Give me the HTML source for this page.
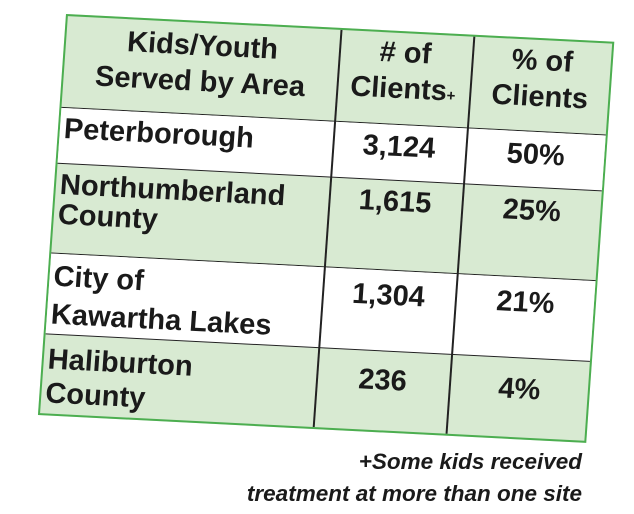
<!DOCTYPE html>
<html><head><meta charset="utf-8"><style>
body{margin:0;width:634px;height:514px;background:#fff;overflow:hidden;position:relative;font-family:"Liberation Sans",Arial,sans-serif;}
#t{position:absolute;left:66px;top:14px;width:549px;height:402px;transform-origin:0 0;transform:matrix(0.9987,0.0506,-0.0698,0.9976,0,0);border:2px solid #4cae50;box-sizing:border-box;background:#d8ead2;}
.r{position:absolute;left:0;width:100%;border-bottom:1.5px solid #222;box-sizing:border-box;}
.c{position:absolute;top:0;bottom:0;font-weight:bold;color:#1a1a1a;font-size:29px;line-height:30px;box-sizing:border-box;white-space:nowrap;}
.v1{position:absolute;left:273px;top:0;height:100%;border-left:2px solid #222;}
.v2{position:absolute;left:406px;top:0;height:100%;border-left:2px solid #222;}
.fn{position:absolute;right:52px;font-style:italic;font-weight:bold;font-size:22.5px;color:#1a1a1a;text-align:right;}
</style></head><body>
<div id="t">
 <div class="r" style="top:0;height:92px;">
  <div class="c" style="left:0;width:273px;text-align:center;padding-top:5px;line-height:36px;">Kids/Youth<br>Served by Area</div>
  <div class="c" style="left:273px;width:133px;text-align:center;padding-top:2px;line-height:36px;"># of<br>Clients<span style="font-size:15px">+</span></div>
  <div class="c" style="left:406px;width:141px;text-align:center;padding-top:3px;line-height:36px;">% of<br>Clients</div>
 </div>
 <div class="r" style="top:92px;height:56px;background:#fff;">
  <div class="c" style="left:4px;padding-top:6px;">Peterborough</div>
  <div class="c" style="left:273px;width:133px;text-align:center;padding-top:7px;">3,124</div>
  <div class="c" style="left:406px;width:141px;text-align:center;padding-top:8px;">50%</div>
 </div>
 <div class="r" style="top:148px;height:90px;">
  <div class="c" style="left:4px;padding-top:6px;line-height:30px;">Northumberland<br>County</div>
  <div class="c" style="left:273px;width:133px;text-align:center;padding-top:6px;">1,615</div>
  <div class="c" style="left:406px;width:141px;text-align:center;padding-top:8px;">25%</div>
 </div>
 <div class="r" style="top:238px;height:81px;background:#fff;">
  <div class="c" style="left:4px;padding-top:4px;line-height:38px;">City of<br>Kawartha Lakes</div>
  <div class="c" style="left:273px;width:133px;text-align:center;padding-top:10px;">1,304</div>
  <div class="c" style="left:406px;width:141px;text-align:center;padding-top:10px;">21%</div>
 </div>
 <div class="r" style="top:319px;height:83px;border-bottom:none;">
  <div class="c" style="left:4px;padding-top:8px;line-height:34px;">Haliburton<br>County</div>
  <div class="c" style="left:273px;width:133px;text-align:center;padding-top:14px;">236</div>
  <div class="c" style="left:406px;width:141px;text-align:center;padding-top:16px;">4%</div>
 </div>
 <div class="v1"></div><div class="v2"></div>
</div>
<div class="fn" style="top:449px;">+Some kids received</div>
<div class="fn" style="top:481px;">treatment at more than one site</div>
</body></html>
